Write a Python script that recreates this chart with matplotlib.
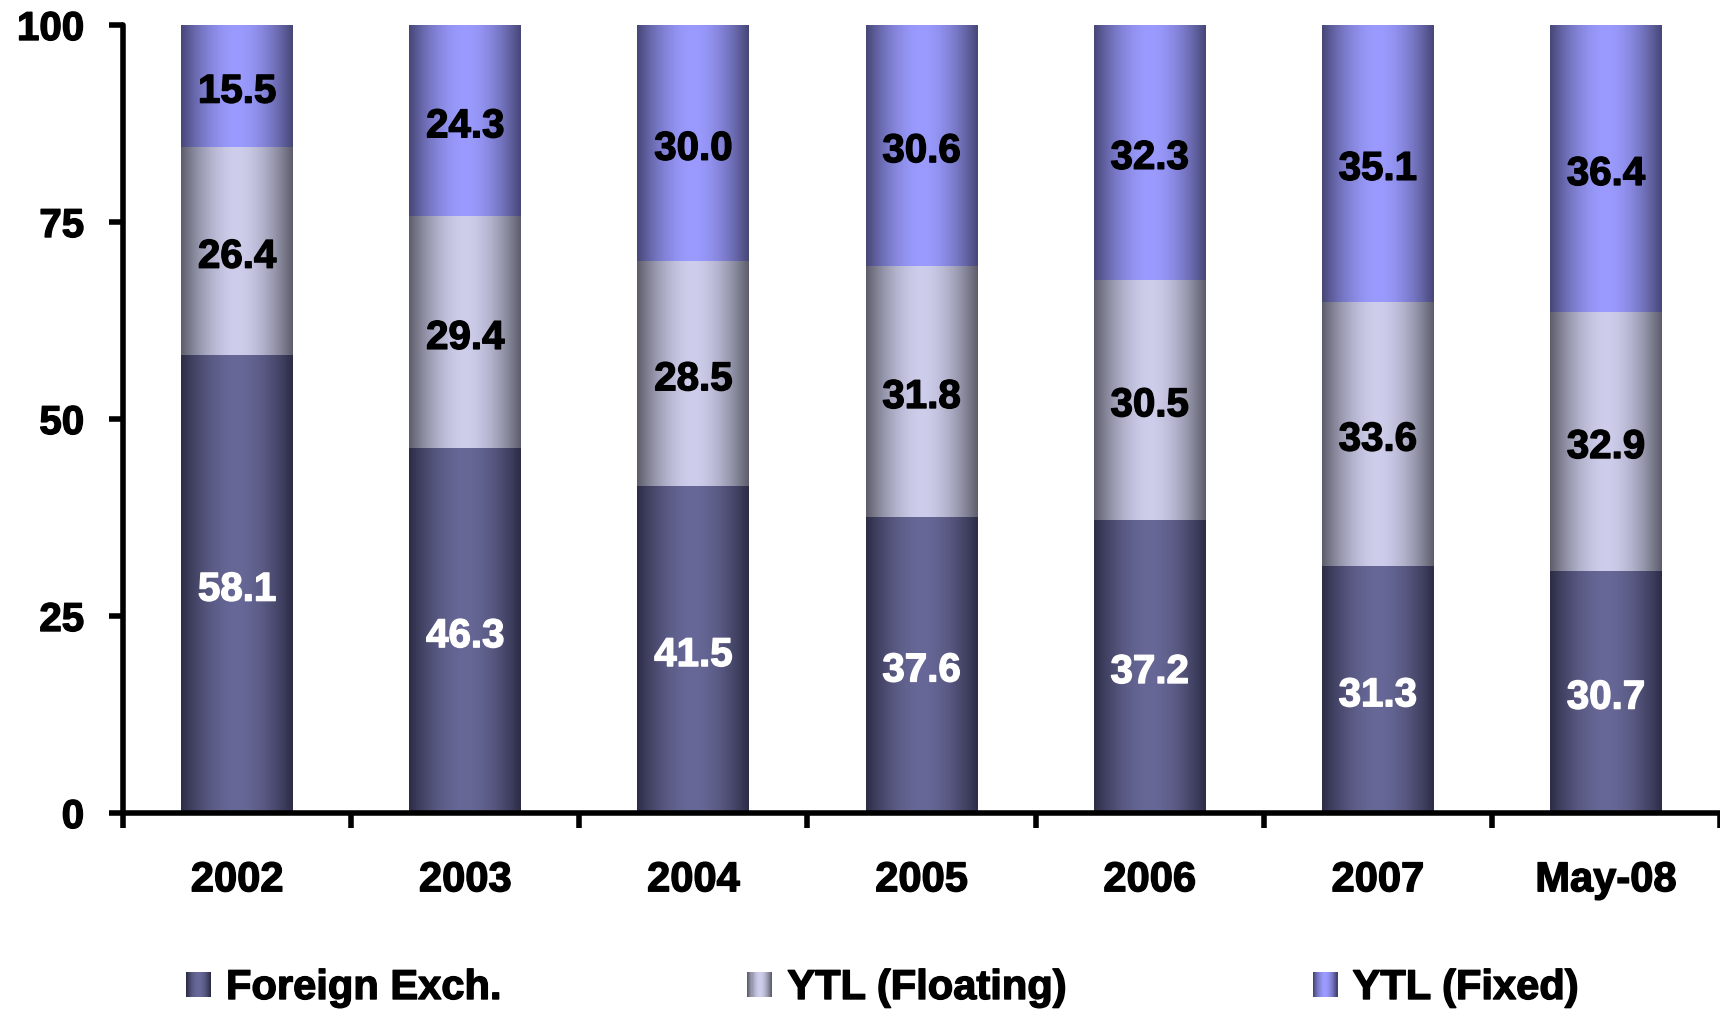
import numpy as np
import matplotlib
matplotlib.use("Agg")
import matplotlib.pyplot as plt
import matplotlib.patheffects as pe
from matplotlib.patches import Rectangle
from matplotlib.legend_handler import HandlerBase

plt.rcParams["font.family"] = ["Liberation Sans", "DejaVu Sans"]
plt.rcParams["font.weight"] = "bold"

categories = ["2002", "2003", "2004", "2005", "2006", "2007", "May-08"]
foreign_exch = [58.1, 46.3, 41.5, 37.6, 37.2, 31.3, 30.7]
ytl_floating = [26.4, 29.4, 28.5, 31.8, 30.5, 33.6, 32.9]
ytl_fixed = [15.5, 24.3, 30.0, 30.6, 32.3, 35.1, 36.4]
series_names = ["Foreign Exch.", "YTL (Floating)", "YTL (Fixed)"]
yticks = [0, 25, 50, 75, 100]

# (edge colour, centre colour) of the cylindrical shading for each series
shades = [
    ((44, 44, 70), (104, 104, 152)),
    ((92, 92, 106), (206, 206, 236)),
    ((70, 70, 118), (155, 155, 255)),
]
label_colors = ["white", "black", "black"]


def heavy(color, lw=1.0):
    return [pe.withStroke(linewidth=lw, foreground=color)]


def gradient_row(edge, centre, n=256):
    t = np.linspace(-1, 1, n)
    w = 1 - np.abs(t) ** 1.8
    e = np.array(edge, float) / 255
    c = np.array(centre, float) / 255
    return e[None, :] + (c - e)[None, :] * w[:, None]


class GradientHandler(HandlerBase):
    def __init__(self, edge, centre, steps=24):
        super().__init__()
        self.cols = gradient_row(edge, centre, steps)

    def create_artists(self, legend, orig_handle, xdescent, ydescent,
                       width, height, fontsize, trans):
        n = len(self.cols)
        arts = []
        for i, col in enumerate(self.cols):
            r = Rectangle((-xdescent + width * i / n, -ydescent),
                          width / n * 1.05, height, facecolor=col,
                          edgecolor="none", transform=trans)
            arts.append(r)
        return arts


W, H = 1720, 1013
fig = plt.figure(figsize=(W / 100, H / 100), dpi=100)
ax = fig.add_axes([123 / W, 1 - 813 / H, 1 - 123 / W, (813 - 25) / H])

x = np.arange(len(categories))
bottom = np.zeros(len(categories))
handles = []
for vals, (edge, centre), name, lc in zip(
        [foreign_exch, ytl_floating, ytl_fixed], shades, series_names, label_colors):
    bars = ax.bar(x, vals, width=0.49, bottom=bottom, color="none",
                  edgecolor="none", label=name)
    grad = gradient_row(edge, centre)[None, :, :]
    for b, v in zip(bars, vals):
        x0, y0, bw, bh = b.get_x(), b.get_y(), b.get_width(), b.get_height()
        ax.imshow(grad, extent=[x0, x0 + bw, y0, y0 + bh], aspect="auto",
                  interpolation="bilinear", zorder=1)
        ax.annotate(f"{v:.1f}", (x0 + bw / 2, y0 + bh / 2),
                    xytext=(0, -4), textcoords="offset points",
                    ha="center", va="center", fontsize=29, fontweight="bold",
                    color=lc, zorder=3, path_effects=heavy(lc))
    handles.append(bars)
    bottom = bottom + np.array(vals)

ax.set_xlim(-0.5, len(categories) - 0.5)
ax.set_ylim(0, 100)

for s in ["top", "right"]:
    ax.spines[s].set_visible(False)
for s in ["left", "bottom"]:
    ax.spines[s].set_linewidth(4)
    ax.spines[s].set_capstyle("round")

ax.set_yticks(yticks)
ax.set_yticklabels([str(v) for v in yticks])
ax.tick_params(axis="y", length=10, width=4, pad=18, labelsize=29)

ax.set_xticks(x)
ax.set_xticklabels(categories)
ax.set_xticks(np.arange(-0.5, len(categories)), minor=True)
ax.tick_params(axis="x", which="major", length=0, pad=34, labelsize=30)
ax.tick_params(axis="x", which="minor", length=11, width=4)
for lbl in ax.get_xticklabels() + ax.get_yticklabels():
    lbl.set_fontweight("bold")
    lbl.set_path_effects(heavy("black"))

leg = fig.legend(handles, series_names, loc="center left",
                 bbox_to_anchor=(186 / W, 1 - 988 / H), ncol=3, frameon=False,
                 prop={"weight": "bold", "size": 30},
                 handlelength=0.6, handleheight=0.55, handletextpad=0.36,
                 columnspacing=5.9, borderpad=0, borderaxespad=0,
                 handler_map={h: GradientHandler(*sh) for h, sh in zip(handles, shades)})
for t in leg.get_texts():
    t.set_path_effects(heavy("black"))

fig.savefig("out.png", dpi=100)
